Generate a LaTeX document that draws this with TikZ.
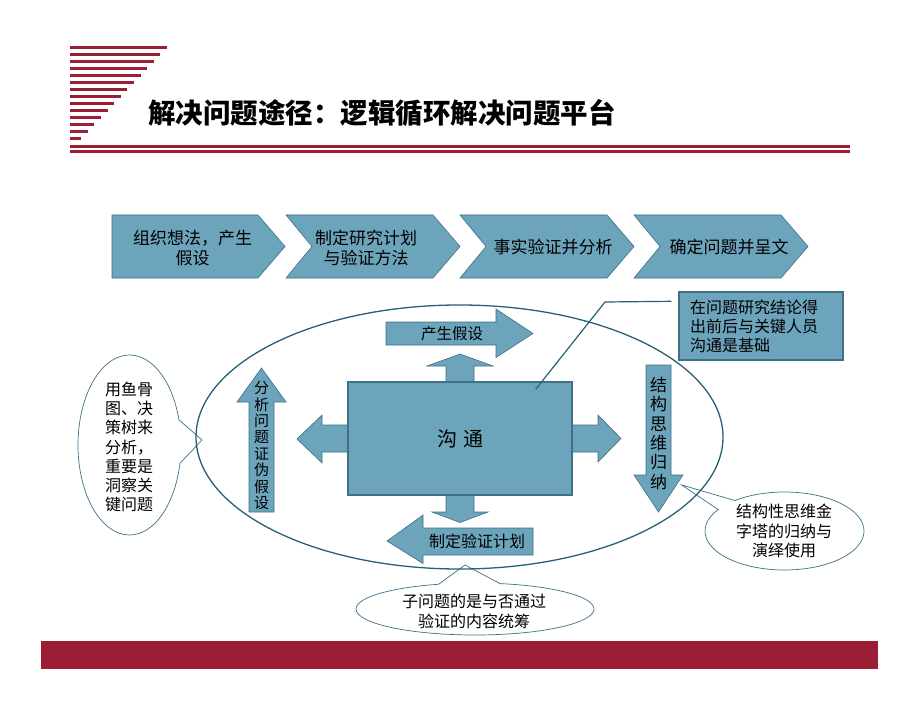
\documentclass[tikz,border=0pt]{standalone}
\usepackage{fontspec}
\setmainfont{Noto Sans CJK SC}
\usetikzlibrary{shapes.callouts}
\definecolor{flowfill}{RGB}{108,164,188}
\definecolor{flowedge}{RGB}{62,112,134}
\definecolor{ringline}{RGB}{38,96,120}
\definecolor{barred}{RGB}{155,30,52}
\tikzset{
  flow/.style={fill=flowfill, draw=flowedge, line width=0.6pt},
  redline/.style={barred, line width=3pt},
  bubble/.style={ellipse callout, fill=white, draw=flowedge, line width=0.7pt, inner sep=0pt},
  txt/.style={font=\fontsize{16}{19.5}\selectfont, align=center, inner sep=0pt},
}
\begin{document}
\begin{tikzpicture}[x=1pt, y=-1pt]
\useasboundingbox (0,0) rectangle (920,711);
% header rules and title
\foreach \i in {0,...,13}
  \draw[redline] (70,{48+7*\i}) -- ({167-6.6*\i},{48+7*\i});
\node[anchor=west, inner sep=0pt, font=\fontsize{27.5}{30}\selectfont\bfseries] (title) at (148,113) {解决问题途径：逻辑循环解决问题平台};
\draw[redline] (70,146.7) -- (850,146.7);
\draw[redline] (70,151.7) -- (850,151.7);

% process chevrons
\draw[flow] (112,215) -- (258,215) -- (285,246.5) -- (258,278) -- (112,278) -- cycle;
\foreach \x in {286,460,634}
  \draw[flow] (\x,215) -- ({\x+147},215) -- ({\x+174},246.5) -- ({\x+147},278) -- (\x,278) -- ({\x+26},246.5) -- cycle;
\node[txt, font=\fontsize{17}{20}\selectfont] (plan1) at (192.5,248.3) {组织想法，产生\\假设};
\node[txt, font=\fontsize{17}{20}\selectfont] (plan2) at (366,248.3) {制定研究计划\\与验证方法};
\node[txt, font=\fontsize{17}{20}\selectfont] (plan3) at (553,246.7) {事实验证并分析};
\node[txt, font=\fontsize{17}{20}\selectfont] (plan4) at (729,246.7) {确定问题并呈文};

% callouts
\node[bubble, minimum width=103pt, minimum height=180pt, callout absolute pointer={(202,440)}, callout pointer arc=28] (fish) at (129.5,445) {};
\node[txt, font=\fontsize{16}{19.3}\selectfont] (fishtxt) at (129,447) {用鱼骨\\图、决\\策树来\\分析，\\重要是\\洞察关\\键问题};
\node[bubble, minimum width=238pt, minimum height=52pt, callout absolute pointer={(465,565)}, callout pointer arc=30] (sub) at (475,609) {};
\node[txt, font=\fontsize{16}{20}\selectfont] (subtxt) at (474,611.7) {子问题的是与否通过\\验证的内容统筹};
\node[bubble, minimum width=159pt, minimum height=78pt, callout absolute pointer={(681.7,485)}, callout pointer arc=18] (pyr) at (784.5,531) {};
\node[txt, font=\fontsize{16}{19.2}\selectfont] (pyrtxt) at (784,531) {结构性思维金\\字塔的归纳与\\演绎使用};

% the loop
\draw[ringline, line width=1.3pt] (459.5,437) ellipse [x radius=263.5pt, y radius=132pt];

% arrows round the centre
\draw[flow] (446,384) -- (446,366) -- (427,366) -- (460,354) -- (493,366) -- (474,366) -- (474,384) -- cycle;
\draw[flow] (446,493) -- (446,512) -- (432,512) -- (460,522.5) -- (488,512) -- (474,512) -- (474,493) -- cycle;
\draw[flow] (350,425) -- (322,425) -- (322,415) -- (297,439) -- (322,463) -- (322,452) -- (350,452) -- cycle;
\draw[flow] (570,425) -- (598,425) -- (598,415) -- (621,438.5) -- (598,462) -- (598,452) -- (570,452) -- cycle;
\draw[flow] (386,322) -- (496,322) -- (496,309) -- (533,333.5) -- (496,357.5) -- (496,345) -- (386,345) -- cycle;
\node[txt, font=\fontsize{15.5}{18}\selectfont] (hyp) at (452,334) {产生假设};
\draw[flow] (533,528) -- (423,528) -- (423,515) -- (387,541) -- (423,563.5) -- (423,555) -- (533,555) -- cycle;
\node[txt] (check) at (477,541.5) {制定验证计划};
\draw[flow] (249,512) -- (249,402) -- (237,402) -- (261.5,368) -- (286,402) -- (274,402) -- (274,512) -- cycle;
\node[txt, font=\fontsize{15}{16.4}\selectfont] (falsify) at (261.5,445.6) {分\\析\\问\\题\\证\\伪\\假\\设};
\draw[flow] (646,365) -- (671,365) -- (671,475) -- (683,475) -- (658.5,512) -- (634,475) -- (646,475) -- cycle;
\node[txt, font=\fontsize{17}{19.3}\selectfont] (induce) at (658.5,433.4) {结\\构\\思\\维\\归\\纳};

% centre box and note
\node[flow, line width=1.4pt, minimum width=224pt, minimum height=113pt, font=\fontsize{20}{24}\selectfont] (talk) at (460,438.5) {沟\hspace{6pt}通};
\node[flow, line width=1.4pt, minimum width=164pt, minimum height=68pt, text width=142pt, inner xsep=11pt, align=left, font=\fontsize{16}{19}\selectfont] (note) at (761,326) {在问题研究结论得\\出前后与关键人员\\沟通是基础};
\coordinate (bend) at (605,302);
\draw[ringline, line width=1.2pt] ([shift={(-7,10)}]note.north west) -- (bend) -- ([shift={(-37,8)}]talk.north east);

% footer bar
\fill[barred] (41,641) rectangle (878,669);
\end{tikzpicture}
\end{document}
